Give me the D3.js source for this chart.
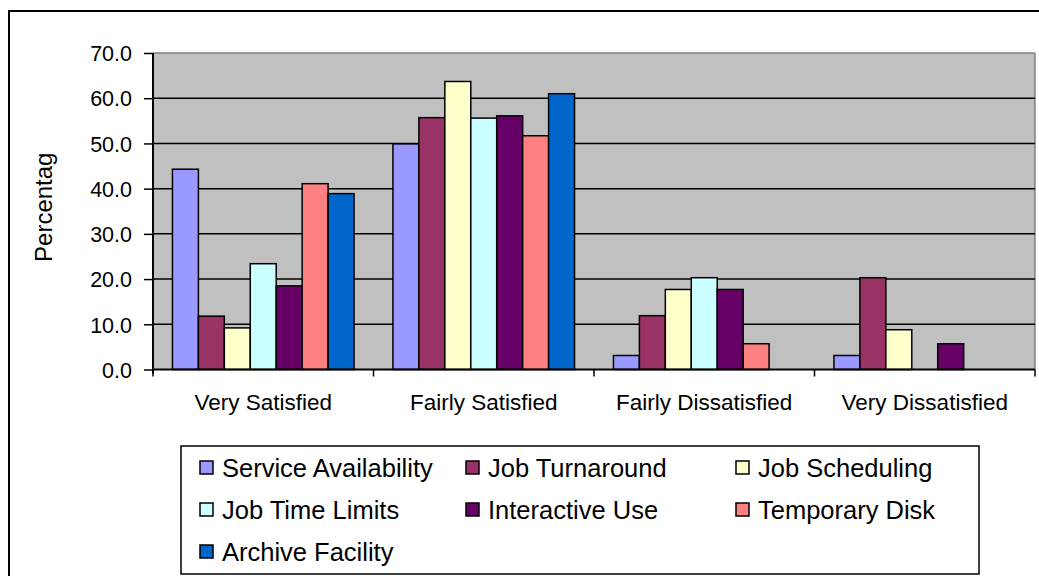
<!DOCTYPE html>
<html>
<head>
<meta charset="utf-8">
<script src="https://cdn.jsdelivr.net/npm/d3@7"></script>
<style>
  body { margin: 0; background: #fff; }
  svg text { font-family: "Liberation Sans", Arial, sans-serif; fill: #000; }
</style>
</head>
<body>
<svg id="chart" width="1039" height="576"></svg>
<script>
// categories on the x axis
const categories = ['Very Satisfied', 'Fairly Satisfied', 'Fairly Dissatisfied', 'Very Dissatisfied'];
// one series per service, values in percent for each category
const seriesNames = ['Service Availability', 'Job Turnaround', 'Job Scheduling', 'Job Time Limits',
                     'Interactive Use', 'Temporary Disk', 'Archive Facility'];
const serviceAvailability = [44.3, 49.9, 3.1, 3.1];
const jobTurnaround       = [11.8, 55.7, 11.9, 20.3];
const jobScheduling       = [9.2, 63.7, 17.7, 8.8];
const jobTimeLimits       = [23.4, 55.6, 20.3, 0];
const interactiveUse      = [18.5, 56.1, 17.7, 5.7];
const temporaryDisk       = [41.1, 51.7, 5.7, 0];
const archiveFacility     = [38.9, 61.0, 0, 0];
const yTicks = [0, 10, 20, 30, 40, 50, 60, 70];
const colors = ['#9999ff', '#993366', '#ffffcc', '#ccffff', '#660066', '#ff8080', '#0066cc'];

const seriesValues = [serviceAvailability, jobTurnaround, jobScheduling, jobTimeLimits,
                      interactiveUse, temporaryDisk, archiveFacility];

const svg = d3.select('#chart');
const plot = {left: 153, right: 1035, top: 53, bottom: 369.5};

// outer chart frame (runs off the right/bottom of the picture)
svg.append('rect')
   .attr('x', 9).attr('y', 11)
   .attr('width', 1100).attr('height', 620)
   .attr('fill', '#fff')
   .attr('stroke', '#000')
   .attr('stroke-width', 2);

const y = d3.scaleLinear().domain([0, 70]).range([plot.bottom, plot.top]);
const x0 = d3.scaleBand().domain(categories).range([plot.left, plot.right]).padding(0);
const x1 = d3.scaleBand().domain(seriesNames).range([0, x0.bandwidth()])
             .paddingInner(0).paddingOuter(0.75);

// plot area
svg.append('rect')
   .attr('x', plot.left).attr('y', plot.top)
   .attr('width', plot.right - plot.left)
   .attr('height', plot.bottom - plot.top)
   .attr('fill', '#c0c0c0');
svg.append('line')
   .attr('x1', plot.left).attr('x2', plot.right)
   .attr('y1', plot.top).attr('y2', plot.top)
   .attr('stroke', '#808080').attr('stroke-width', 1.5);
svg.append('line')
   .attr('x1', plot.right).attr('x2', plot.right)
   .attr('y1', plot.top).attr('y2', plot.bottom)
   .attr('stroke', '#808080').attr('stroke-width', 1.5);

// gridlines
svg.append('g')
   .selectAll('line')
   .data(yTicks.filter(d => d > 0 && d < 70))
   .join('line')
   .attr('x1', plot.left).attr('x2', plot.right)
   .attr('y1', d => y(d)).attr('y2', d => y(d))
   .attr('stroke', '#000').attr('stroke-width', 1.5);

// bars
const groups = svg.append('g')
   .selectAll('g')
   .data(categories)
   .join('g')
   .attr('transform', d => `translate(${x0(d)},0)`);

groups.selectAll('rect')
   .data((c, ci) => seriesNames.map((s, si) => ({s: s, v: seriesValues[si][ci], color: colors[si]})))
   .join('rect')
   .filter(d => d.v > 0)
   .attr('x', d => x1(d.s))
   .attr('y', d => y(d.v))
   .attr('width', x1.bandwidth())
   .attr('height', d => y(0) - y(d.v))
   .attr('fill', d => d.color)
   .attr('stroke', '#000')
   .attr('stroke-width', 1.5);

// y axis
const yAxis = svg.append('g')
   .attr('transform', `translate(${plot.left},0)`)
   .call(d3.axisLeft(y).tickValues(yTicks).tickFormat(d3.format('.1f')).tickSize(9).tickSizeOuter(0));
yAxis.select('.domain').attr('stroke', '#000').attr('stroke-width', 2)
     .attr('d', `M0,${plot.top}V${plot.bottom + 4}`);
yAxis.selectAll('.tick line').attr('stroke', '#000').attr('stroke-width', 1.5);
yAxis.selectAll('.tick text')
     .attr('x', -21)
     .attr('dy', '0.36em')
     .style('font-size', '21.5px')
     .style('font-family', '"Liberation Sans", Arial, sans-serif')
     .attr('fill', '#000');

// x axis
svg.append('line')
   .attr('x1', plot.left).attr('x2', plot.right)
   .attr('y1', plot.bottom).attr('y2', plot.bottom)
   .attr('stroke', '#000').attr('stroke-width', 2);
svg.append('g')
   .selectAll('line')
   .data(d3.range(categories.length + 1))
   .join('line')
   .attr('x1', i => plot.left + i * x0.step())
   .attr('x2', i => plot.left + i * x0.step())
   .attr('y1', plot.bottom).attr('y2', plot.bottom + 7)
   .attr('stroke', '#000').attr('stroke-width', 1.5);
svg.append('g')
   .selectAll('text')
   .data(categories)
   .join('text')
   .attr('x', d => x0(d) + x0.bandwidth() / 2)
   .attr('y', 410)
   .attr('text-anchor', 'middle')
   .style('font-size', '22.5px')
   .text(d => d);

// y axis title
svg.append('text')
   .attr('transform', `translate(52,${(plot.top + plot.bottom) / 2 - 4}) rotate(-90)`)
   .attr('text-anchor', 'middle')
   .style('font-size', '24px')
   .text('Percentag');

// legend
const legend = svg.append('g');
legend.append('rect')
   .attr('x', 181).attr('y', 446)
   .attr('width', 798).attr('height', 128)
   .attr('fill', '#fff')
   .attr('stroke', '#000').attr('stroke-width', 1.5);
const colX = [200, 466, 736];
const rowY = [468, 510, 552];
const items = legend.selectAll('g')
   .data(seriesNames)
   .join('g')
   .attr('transform', (d, i) => `translate(${colX[i % 3]},${rowY[Math.floor(i / 3)]})`);
items.append('rect')
   .attr('x', 0).attr('y', -7)
   .attr('width', 13).attr('height', 13)
   .attr('fill', (d, i) => colors[i])
   .attr('stroke', '#000').attr('stroke-width', 1.5);
items.append('text')
   .attr('x', 22).attr('y', 0)
   .attr('dy', '0.36em')
   .style('font-size', '25.5px')
   .text(d => d);
</script>
</body>
</html>
